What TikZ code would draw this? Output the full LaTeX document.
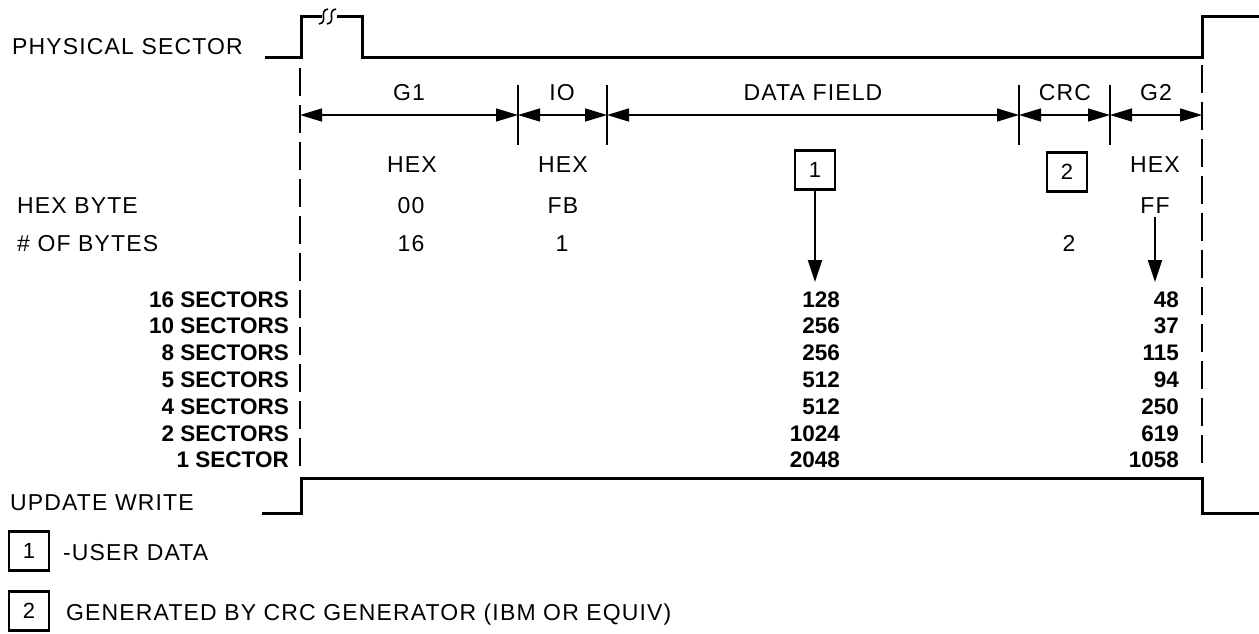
\documentclass[tikz,border=0pt]{standalone}
\usepackage{fontspec}
\setmainfont{Liberation Sans}[LetterSpace=5]
\newfontfamily\numfont{Liberation Sans Bold}
\usetikzlibrary{arrows.meta}
\begin{document}
\begin{tikzpicture}[x=1pt,y=-1pt,
  lbl/.style={inner sep=0pt, font=\fontsize{23}{25}\selectfont},
  num/.style={inner sep=0pt, font=\numfont\fontsize{22.5}{24}\selectfont, anchor=base east},
  wave/.style={line width=3pt, line join=miter},
  dimline/.style={line width=1.4pt, {Triangle[length=22pt,width=13pt]}-{Triangle[length=22pt,width=13pt]}},
  tickline/.style={line width=1.5pt},
  bound/.style={line width=1.6pt, dash pattern=on 28pt off 9pt},
  numbox/.style={draw, line width=2.6pt, minimum width=40pt, minimum height=39pt, inner sep=0pt, font=\fontsize{22}{24}\selectfont},
  downarrow/.style={line width=2pt, -{Triangle[length=22pt,width=14pt]}}
]
\useasboundingbox[fill=white] (0,0) rectangle (1259,634);

% physical sector waveform
\draw[wave] (265,58) -- (301,58) -- (301,17) -- (322,17);
\draw[wave] (337,17) -- (362,17) -- (362,58) -- (1202,58) -- (1202,17) -- (1259,17);
\draw[line width=1.6pt] (319,24) .. controls (329,22) and (318,11) .. (328,9);
\draw[line width=1.6pt] (327,24) .. controls (337,22) and (326,11) .. (336,9);
\node[lbl, anchor=base west] (phys) at (12,55) {PHYSICAL SECTOR};

% boundaries
\coordinate (lt) at (300,68);
\coordinate (lb) at (300,471);
\coordinate (rt) at (1202,65);
\coordinate (rb) at (1202,471);
\draw[bound] (lt) -- (lb);
\draw[bound] (rt) -- (rb);

% dimension ticks
\foreach \n/\x in {b1/518, b2/607, b3/1019, b4/1110}{
  \coordinate (\n t) at (\x,85);
  \coordinate (\n b) at (\x,145);
  \draw[tickline] (\n t) -- (\n b);
}
\coordinate (b0) at (300,115);
\coordinate (b1) at (518,115);
\coordinate (b2) at (607,115);
\coordinate (b3) at (1019,115);
\coordinate (b4) at (1110,115);
\coordinate (b5) at (1202,115);
\draw[dimline] (b0) -- (b1);
\draw[dimline] (b1) -- (b2);
\draw[dimline] (b2) -- (b3);
\draw[dimline] (b3) -- (b4);
\draw[dimline] (b4) -- (b5);

% field labels
\node[lbl, anchor=base] (g1) at (409,100) {G1};
\node[lbl, anchor=base] (io) at (562,100) {IO};
\node[lbl, anchor=base] (df) at (813,100) {DATA FIELD};
\node[lbl, anchor=base] (crc) at (1065,100) {CRC};
\node[lbl, anchor=base] (g2) at (1156,100) {G2};

% hex row
\node[lbl, anchor=base] (hex1) at (412,172) {HEX};
\node[lbl, anchor=base] (hex2) at (563,172) {HEX};
\node[lbl, anchor=base] (hex3) at (1155,172) {HEX};
\node[numbox] (box1) at (815,170) {1};
\node[numbox] (box2) at (1067,172) {2};

% hex byte row
\node[lbl, anchor=base west] (hb) at (17,213) {HEX BYTE};
\node[lbl, anchor=base] (v00) at (411,213) {00};
\node[lbl, anchor=base] (vfb) at (563,213) {FB};
\node[lbl, anchor=base] (vff) at (1155,213) {FF};

% number of bytes row
\node[lbl, anchor=base west] (nb) at (17,251) {\# OF BYTES};
\node[lbl, anchor=base] (n16) at (411,251) {16};
\node[lbl, anchor=base] (n1) at (562,251) {1};
\node[lbl, anchor=base] (n2) at (1069,251) {2};

% arrows
\coordinate (a1) at (815,282);
\coordinate (a2) at (1155,282);
\draw[downarrow] (box1.south) -- (a1);
\draw[downarrow] ([yshift=-4pt]vff.south) -- (a2);

% sector table
\foreach \lab/\d/\g [count=\i] in {16 SECTORS/128/48, 10 SECTORS/256/37, 8 SECTORS/256/115, 5 SECTORS/512/94, 4 SECTORS/512/250, 2 SECTORS/1024/619, 1 SECTOR/2048/1058}{
  \pgfmathsetmacro{\yy}{307+(\i-1)*26.8}
  \node[num] (s\i) at (289,\yy) {\lab};
  \node[num] (d\i) at (840,\yy) {\d};
  \node[num] (e\i) at (1179,\yy) {\g};
}

% update write waveform
\draw[wave] (262,513) -- (301,513) -- (301,478) -- (1202,478) -- (1202,513) -- (1259,513);
\node[lbl, anchor=base west] (uw) at (10,510) {UPDATE WRITE};

% legend
\node[numbox] (lg1) at (29,551) {1};
\node[lbl, anchor=base west] (lt1) at (63,560) {-USER DATA};
\node[numbox] (lg2) at (29,611) {2};
\node[lbl, anchor=base west] (lt2) at (66,620) {GENERATED BY CRC GENERATOR (IBM OR EQUIV)};
\end{tikzpicture}
\end{document}
